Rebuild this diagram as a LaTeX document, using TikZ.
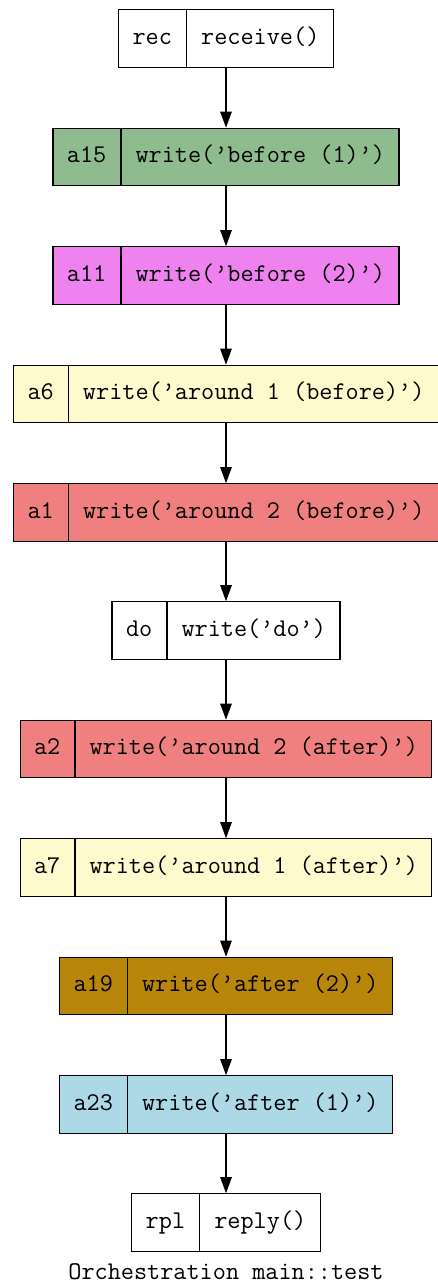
\documentclass[tikz,border=0pt]{standalone}
\usepackage{fontspec}
\usetikzlibrary{shapes.multipart,arrows.meta}
\definecolor{darkseagreen}{HTML}{8FBC8F}
\definecolor{violet}{HTML}{EE82EE}
\definecolor{lemonchiffon}{HTML}{FFFACD}
\definecolor{lightcoral}{HTML}{F08080}
\definecolor{darkgoldenrod}{HTML}{B8860B}
\definecolor{lightblue}{HTML}{ADD8E6}
\tikzset{
  record/.style={rectangle split,rectangle split horizontal,rectangle split parts=2,
    rectangle split part align=base,
    draw,line width=1.2pt,inner xsep=14pt,inner ysep=0pt,minimum height=57.5pt,
    font=\ttfamily\fontsize{25.5}{28}\selectfont},
  flow/.style={-{Triangle[length=16pt,width=11.5pt]},line width=1.2pt}
}
\begin{document}
\begin{tikzpicture}[x=1pt,y=-1pt]
\useasboundingbox (0,0) rectangle (437,1285);
\node[record] (rec) at (226,38.5) {\strut rec\nodepart{two}\strut receive()};
\node[record,fill=darkseagreen] (a15) at (226,157) {\strut a15\nodepart{two}\strut write(’before (1)’)};
\node[record,fill=violet] (a11) at (226,275.5) {\strut a11\nodepart{two}\strut write(’before (2)’)};
\node[record,fill=lemonchiffon] (a6) at (226,394) {\strut a6\nodepart{two}\strut write(’around 1 (before)’)};
\node[record,fill=lightcoral] (a1) at (226,512.5) {\strut a1\nodepart{two}\strut write(’around 2 (before)’)};
\node[record] (do) at (226,630.5) {\strut do\nodepart{two}\strut write(’do’)};
\node[record,fill=lightcoral] (a2) at (226,749) {\strut a2\nodepart{two}\strut write(’around 2 (after)’)};
\node[record,fill=lemonchiffon] (a7) at (226,867.5) {\strut a7\nodepart{two}\strut write(’around 1 (after)’)};
\node[record,fill=darkgoldenrod] (a19) at (226,986) {\strut a19\nodepart{two}\strut write(’after (2)’)};
\node[record,fill=lightblue] (a23) at (226,1104.5) {\strut a23\nodepart{two}\strut write(’after (1)’)};
\node[record] (rpl) at (226,1222.5) {\strut rpl\nodepart{two}\strut reply()};
\node[font=\ttfamily\fontsize{25.5}{28}\selectfont] (title) at (226,1272) {Orchestration main::test};
\foreach \from/\to in {rec/a15,a15/a11,a11/a6,a6/a1,a1/do,do/a2,a2/a7,a7/a19,a19/a23,a23/rpl}
  \draw[flow] (\from.south) -- (\to.north);
\end{tikzpicture}
\end{document}
